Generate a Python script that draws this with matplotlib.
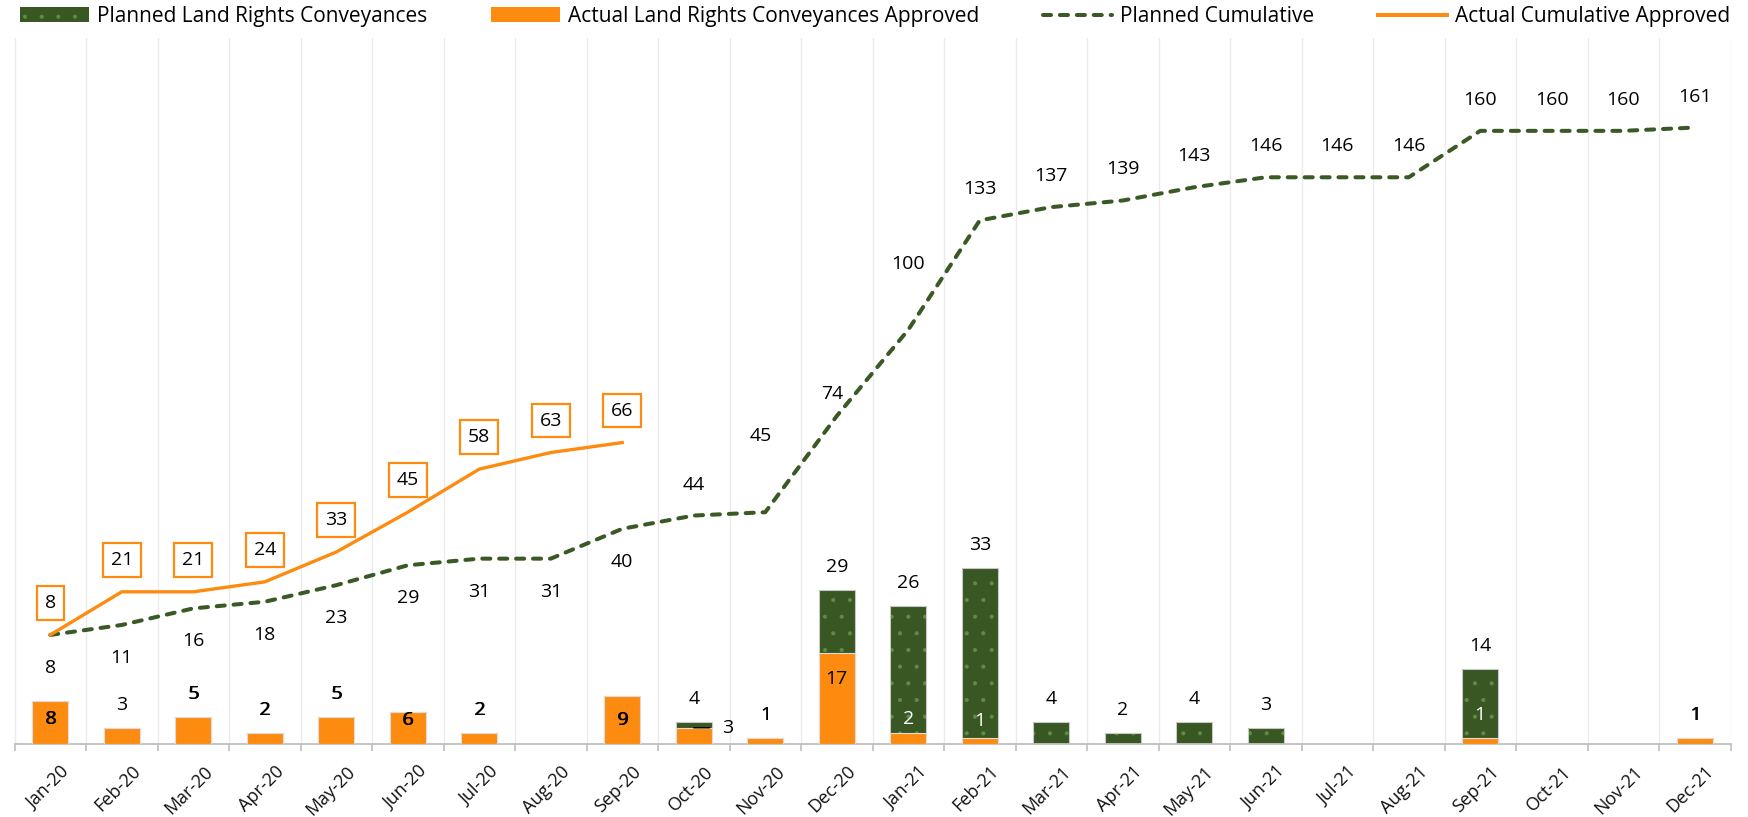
import matplotlib
matplotlib.use('Agg')
import matplotlib.pyplot as plt
from matplotlib.transforms import ScaledTranslation
from matplotlib.patches import Patch
from matplotlib.lines import Line2D
import numpy as np

# ---------------- data ----------------
months = ['Jan-20', 'Feb-20', 'Mar-20', 'Apr-20', 'May-20', 'Jun-20', 'Jul-20', 'Aug-20',
          'Sep-20', 'Oct-20', 'Nov-20', 'Dec-20', 'Jan-21', 'Feb-21', 'Mar-21', 'Apr-21',
          'May-21', 'Jun-21', 'Jul-21', 'Aug-21', 'Sep-21', 'Oct-21', 'Nov-21', 'Dec-21']
planned_monthly = [8, 3, 5, 2, 5, 6, 2, 0, 9, 4, 1, 29, 26, 33, 4, 2, 4, 3, 0, 0, 14, 0, 0, 1]
actual_monthly = [8, 3, 5, 2, 5, 6, 2, 0, 9, 3, 1, 17, 2, 1, 0, 0, 0, 0, 0, 0, 1, 0, 0, 1]
planned_cum = [8, 11, 16, 18, 23, 29, 31, 31, 40, 44, 45, 74, 100, 133, 137, 139, 143,
               146, 146, 146, 160, 160, 160, 161]
actual_cum = [8, 21, 21, 24, 33, 45, 58, 63, 66]
legend_labels = ['Planned Land Rights Conveyances', 'Actual Land Rights Conveyances Approved',
                 'Planned Cumulative', 'Actual Cumulative Approved']

# ---------------- style ----------------
GREEN = '#385723'
GREEN_LINE = '#3a5a25'
DOT = '#5f8d44'
ORANGE = '#fd8b10'
FS = 14

plt.rcParams['font.family'] = ['Open Sans', 'DejaVu Sans']
plt.rcParams['hatch.color'] = DOT
plt.rcParams['hatch.linewidth'] = 0.5

W, H = 1748, 817
fig = plt.figure(figsize=(W / 100, H / 100), dpi=100)
fig.patch.set_facecolor('white')
L, R, T, B = 14.5, 1730.5, 38, 743.7
ax = fig.add_axes([L / W, 1 - B / H, (R - L) / W, (B - T) / H])
ax2 = ax.twinx()

n = len(months)
x = np.arange(n)
ax.set_xlim(-0.5, n - 0.5)
ax.set_ylim(0, 132.9)
ax2.set_ylim(-24.8, 188.0)

for a in (ax, ax2):
    for s in ('top', 'left', 'right'):
        a.spines[s].set_visible(False)
    a.set_yticks([])
ax2.spines['bottom'].set_visible(False)
ax.spines['bottom'].set_color('#bfbfbf')
ax.spines['bottom'].set_linewidth(1.3)

# gridlines at category boundaries
bounds = np.arange(-0.5, n, 1.0)
for b in bounds:
    ax.axvline(b, color='#ebebeb', lw=1.0, zorder=0)

ax.set_xticks(bounds)
ax.set_xticklabels([])
ax.tick_params(axis='x', which='major', length=5, width=1.2, color='#bfbfbf')
ax.set_xticks(x, minor=True)
ax.set_xticklabels(months, minor=True, rotation=45, ha='right', va='top',
                   rotation_mode='anchor', fontsize=13, color='#111111')
ax.tick_params(axis='x', which='minor', length=0, pad=13.5)
for lbl in ax.get_xticklabels(minor=True):
    lbl.set_transform(lbl.get_transform() + ScaledTranslation(10 / 100, 0, fig.dpi_scale_trans))

# bars
ax.bar(x, planned_monthly, width=0.5, color=GREEN, hatch='.', linewidth=0, zorder=2)
ax.bar(x, planned_monthly, width=0.5, fill=False, edgecolor='#c8c8c8', linewidth=0.8, zorder=2.1)
ax.bar(x, actual_monthly, width=0.5, color=ORANGE, edgecolor='#dcdcdc', linewidth=0.8, zorder=3)

# cumulative lines
ax2.plot(x, planned_cum, color=GREEN_LINE, lw=2.9, dashes=(2.0, 2.2),
         dash_capstyle='round', zorder=4)
ax2.plot(x[:len(actual_cum)], actual_cum, color=ORANGE, lw=2.4,
         solid_joinstyle='miter', zorder=5)

# planned cumulative labels (offsets in pixels)
pc_dy = [-33] * 9 + [31, 76, 22, 66] + [31] * 11
pc_dx = [0] * n
pc_dx[10] = -5
pc_dx[11] = -5
for i, v in enumerate(planned_cum):
    ax2.annotate(str(v), (i, v), xytext=(pc_dx[i], pc_dy[i]), textcoords='offset pixels',
                 ha='center', va='center', fontsize=FS, color='black', zorder=6)

# actual cumulative boxed labels
for i, v in enumerate(actual_cum):
    ax2.annotate(str(v), (i, v), xytext=(0, 32), textcoords='offset pixels',
                 ha='center', va='center', fontsize=FS, color='black', zorder=7,
                 bbox=dict(boxstyle='square,pad=0.4', fc='white', ec=ORANGE, lw=1.6))

# planned bar labels (some overlap the identical actual label -> drawn heavier)
planned_dy = {0: -18, 5: -8, 8: -24}
heavy = {0, 2, 3, 4, 5, 6, 8, 10, 23}
for i, v in enumerate(planned_monthly):
    if v <= 0:
        continue
    dy = planned_dy.get(i, 23)
    reps = 2 if i in heavy else 1
    for r in range(reps):
        ax.annotate(str(v), (i, v), xytext=(1.0 * r, dy), textcoords='offset pixels',
                    ha='center', va='center', fontsize=FS, color='black', zorder=8)

# actual bar labels where they differ from planned
actual_style = {9: ('leader', 34, 0), 11: ('black', 0, -26), 12: ('white', 0, 14),
                13: ('white', 0, 17), 20: ('white', 0, 23)}
for i, (kind, dx, dy) in actual_style.items():
    v = actual_monthly[i]
    if kind == 'leader':
        ax.annotate(str(v), (i, v), xytext=(dx, dy), textcoords='offset pixels',
                    ha='center', va='center', fontsize=FS, color='black', zorder=8,
                    arrowprops=dict(arrowstyle='-', color='black', lw=1.0,
                                    shrinkA=7, shrinkB=0))
    else:
        ax.annotate(str(v), (i, v), xytext=(dx, dy), textcoords='offset pixels',
                    ha='center', va='center', fontsize=FS,
                    color='white' if kind == 'white' else 'black', zorder=8)

# legend
handles = [Patch(facecolor=GREEN, hatch='.', linewidth=0),
           Patch(facecolor=ORANGE, linewidth=0),
           Line2D([], [], color=GREEN_LINE, lw=2.9, dashes=(2.0, 2.2), dash_capstyle='round'),
           Line2D([], [], color=ORANGE, lw=2.9)]
fig.legend(handles, legend_labels, loc='center',
           bbox_to_anchor=(20 / W, 1 - 25.5 / H, 1710 / W, 18 / H), mode='expand',
           ncol=4, frameon=False, fontsize=15, handlelength=3.3, handleheight=0.7,
           handletextpad=0.4, borderpad=0, borderaxespad=0)

fig.savefig('out.png', dpi=100, facecolor='white')
